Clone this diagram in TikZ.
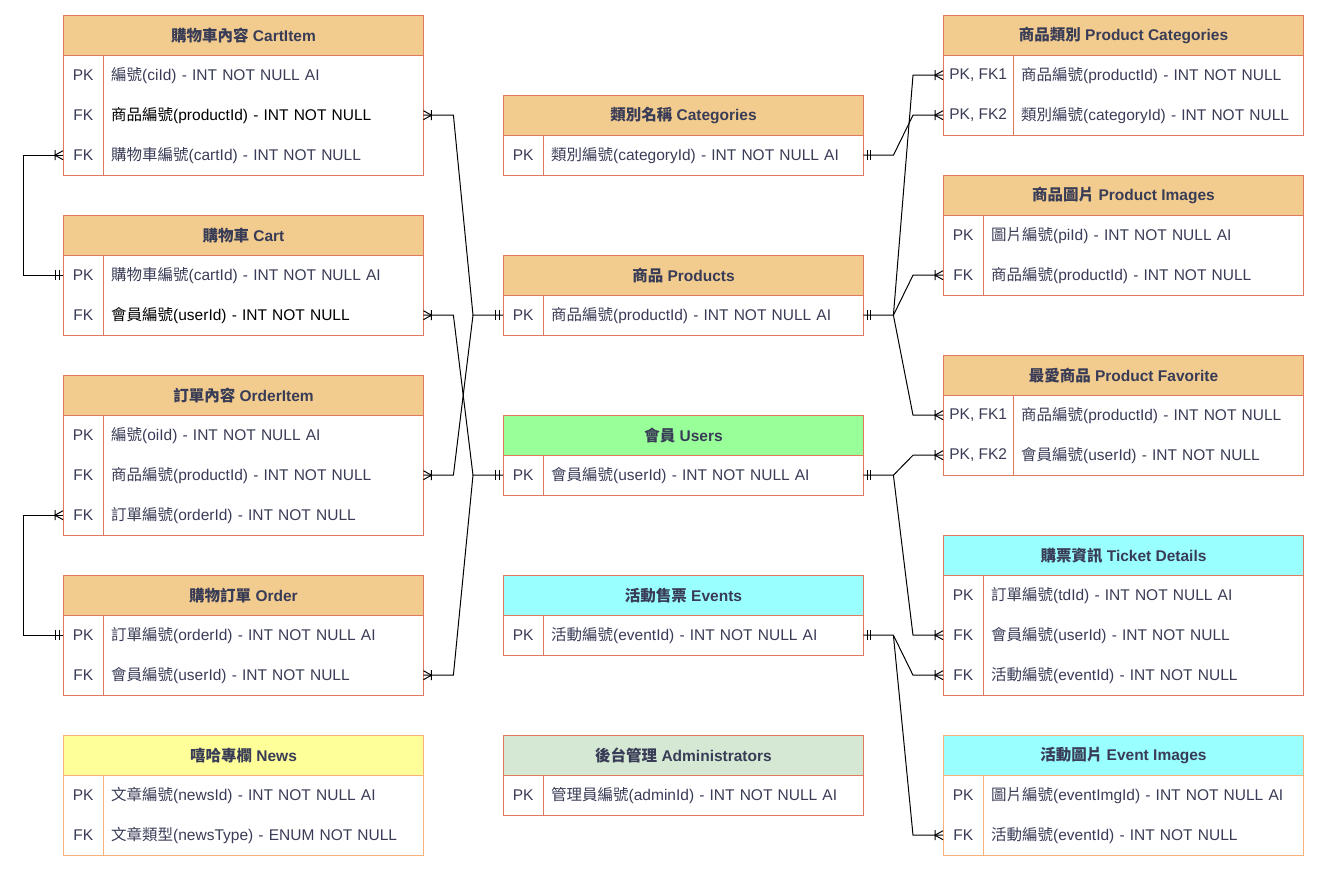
\documentclass[tikz,border=0pt]{standalone}
\usepackage{fontspec}
\setmainfont{Liberation Sans}
\newfontfamily\cjkfont{Noto Sans CJK TC}
\newcommand{\zh}[1]{{\cjkfont #1}}

\definecolor{bdr}{HTML}{E07A5F}
\definecolor{bdrlight}{HTML}{F7B27A}
\definecolor{hdrtan}{HTML}{F2CC8F}
\definecolor{ink}{HTML}{393C56}
\definecolor{mint}{HTML}{99FF99}
\definecolor{aqua}{HTML}{99FFFF}
\definecolor{lemon}{HTML}{FFFF99}
\definecolor{sage}{HTML}{D5E8D4}

\tikzset{
  hdr/.style={draw=bdr, line width=1pt, fill=hdrtan, anchor=north west, minimum width=360pt, minimum height=40pt, inner sep=0pt, text=ink, font=\fontsize{15.5}{19}\selectfont\bfseries},
  keyc/.style={anchor=north west, minimum width=40pt, minimum height=40pt, inner sep=0pt, text=ink},
  fldc/.style={anchor=north west, minimum height=40pt, text width=304pt, inner xsep=8pt, inner ysep=0pt, align=left, text=ink},
  box/.style={draw=bdr, line width=1pt},
  link/.style={draw=black, line width=1pt},
  crowfoot/.pic={\draw[link] (0,-4.5) -- (8,0) -- (0,4.5) (8,-5) -- (8,5);},
  onebar/.pic={\draw[link] (4,-5) -- (4,5) (7.5,-5) -- (7.5,5);}
}

\begin{document}
\begin{tikzpicture}[x=1pt, y=-1pt, font=\fontsize{15.5}{19}\selectfont]
\useasboundingbox (0,0) rectangle (1319,871);

% ---- left column
\node[hdr] (cartitem) at (63,15) {\zh{購物車內容} CartItem};
\foreach \k/\t [count=\i] in {PK/\zh{編號}(ciId) - INT NOT NULL AI, FK/\color{black}\zh{商品編號}(productId) - INT NOT NULL, FK/\zh{購物車編號}(cartId) - INT NOT NULL}{
  \node[keyc] (cartitem-k\i) at (63,{15+40*\i}) {\k};
  \node[fldc] (cartitem-\i) at (103,{15+40*\i}) {\t};
}
\draw[box] (cartitem-k1.north west) rectangle (cartitem-3.south east) (cartitem-k1.north east) -- (cartitem-k3.south east);

\node[hdr] (cart) at (63,215) {\zh{購物車} Cart};
\foreach \k/\t [count=\i] in {PK/\zh{購物車編號}(cartId) - INT NOT NULL AI, FK/\color{black}\zh{會員編號}(userId) - INT NOT NULL}{
  \node[keyc] (cart-k\i) at (63,{215+40*\i}) {\k};
  \node[fldc] (cart-\i) at (103,{215+40*\i}) {\t};
}
\draw[box] (cart-k1.north west) rectangle (cart-2.south east) (cart-k1.north east) -- (cart-k2.south east);

\node[hdr] (orderitem) at (63,375) {\zh{訂單內容} OrderItem};
\foreach \k/\t [count=\i] in {PK/\zh{編號}(oiId) - INT NOT NULL AI, FK/\zh{商品編號}(productId) - INT NOT NULL, FK/\zh{訂單編號}(orderId) - INT NOT NULL}{
  \node[keyc] (orderitem-k\i) at (63,{375+40*\i}) {\k};
  \node[fldc] (orderitem-\i) at (103,{375+40*\i}) {\t};
}
\draw[box] (orderitem-k1.north west) rectangle (orderitem-3.south east) (orderitem-k1.north east) -- (orderitem-k3.south east);

\node[hdr] (order) at (63,575) {\zh{購物訂單} Order};
\foreach \k/\t [count=\i] in {PK/\zh{訂單編號}(orderId) - INT NOT NULL AI, FK/\zh{會員編號}(userId) - INT NOT NULL}{
  \node[keyc] (order-k\i) at (63,{575+40*\i}) {\k};
  \node[fldc] (order-\i) at (103,{575+40*\i}) {\t};
}
\draw[box] (order-k1.north west) rectangle (order-2.south east) (order-k1.north east) -- (order-k2.south east);

\node[hdr, draw=bdrlight, fill=lemon] (news) at (63,735) {\zh{嘻哈專欄} News};
\foreach \k/\t [count=\i] in {PK/\zh{文章編號}(newsId) - INT NOT NULL AI, FK/\zh{文章類型}(newsType) - ENUM NOT NULL}{
  \node[keyc] (news-k\i) at (63,{735+40*\i}) {\k};
  \node[fldc] (news-\i) at (103,{735+40*\i}) {\t};
}
\draw[box, draw=bdrlight] (news-k1.north west) rectangle (news-2.south east) (news-k1.north east) -- (news-k2.south east);

% ---- middle column
\node[hdr] (categories) at (503,95) {\zh{類別名稱} Categories};
\node[keyc] (categories-k1) at (503,135) {PK};
\node[fldc] (categories-1) at (543,135) {\zh{類別編號}(categoryId) - INT NOT NULL AI};
\draw[box] (categories-k1.north west) rectangle (categories-1.south east) (categories-k1.north east) -- (categories-k1.south east);

\node[hdr] (products) at (503,255) {\zh{商品} Products};
\node[keyc] (products-k1) at (503,295) {PK};
\node[fldc] (products-1) at (543,295) {\zh{商品編號}(productId) - INT NOT NULL AI};
\draw[box] (products-k1.north west) rectangle (products-1.south east) (products-k1.north east) -- (products-k1.south east);

\node[hdr, fill=mint] (users) at (503,415) {\zh{會員} Users};
\node[keyc] (users-k1) at (503,455) {PK};
\node[fldc] (users-1) at (543,455) {\zh{會員編號}(userId) - INT NOT NULL AI};
\draw[box] (users-k1.north west) rectangle (users-1.south east) (users-k1.north east) -- (users-k1.south east);

\node[hdr, fill=aqua] (events) at (503,575) {\zh{活動售票} Events};
\node[keyc] (events-k1) at (503,615) {PK};
\node[fldc] (events-1) at (543,615) {\zh{活動編號}(eventId) - INT NOT NULL AI};
\draw[box] (events-k1.north west) rectangle (events-1.south east) (events-k1.north east) -- (events-k1.south east);

\node[hdr, fill=sage] (admins) at (503,735) {\zh{後台管理} Administrators};
\node[keyc] (admins-k1) at (503,775) {PK};
\node[fldc] (admins-1) at (543,775) {\zh{管理員編號}(adminId) - INT NOT NULL AI};
\draw[box] (admins-k1.north west) rectangle (admins-1.south east) (admins-k1.north east) -- (admins-k1.south east);

% ---- right column
\node[hdr] (prodcat) at (943,15) {\zh{商品類別} Product Categories};
\foreach \k/\t [count=\i] in {{PK, FK1}/\zh{商品編號}(productId) - INT NOT NULL, {PK, FK2}/\zh{類別編號}(categoryId) - INT NOT NULL}{
  \node[keyc, minimum width=70pt] (prodcat-k\i) at (943,{15+40*\i}) {\k};
  \node[fldc, text width=274pt] (prodcat-\i) at (1013,{15+40*\i}) {\mbox{\t}};
}
\draw[box] (prodcat-k1.north west) rectangle (prodcat-2.south east) (prodcat-k1.north east) -- (prodcat-k2.south east);

\node[hdr] (prodimg) at (943,175) {\zh{商品圖片} Product Images};
\foreach \k/\t [count=\i] in {PK/\zh{圖片編號}(piId) - INT NOT NULL AI, FK/\zh{商品編號}(productId) - INT NOT NULL}{
  \node[keyc] (prodimg-k\i) at (943,{175+40*\i}) {\k};
  \node[fldc] (prodimg-\i) at (983,{175+40*\i}) {\t};
}
\draw[box] (prodimg-k1.north west) rectangle (prodimg-2.south east) (prodimg-k1.north east) -- (prodimg-k2.south east);

\node[hdr] (prodfav) at (943,355) {\zh{最愛商品} Product Favorite};
\foreach \k/\t [count=\i] in {{PK, FK1}/\zh{商品編號}(productId) - INT NOT NULL, {PK, FK2}/\zh{會員編號}(userId) - INT NOT NULL}{
  \node[keyc, minimum width=70pt] (prodfav-k\i) at (943,{355+40*\i}) {\k};
  \node[fldc, text width=274pt] (prodfav-\i) at (1013,{355+40*\i}) {\mbox{\t}};
}
\draw[box] (prodfav-k1.north west) rectangle (prodfav-2.south east) (prodfav-k1.north east) -- (prodfav-k2.south east);

\node[hdr, fill=aqua] (tickets) at (943,535) {\zh{購票資訊} Ticket Details};
\foreach \k/\t [count=\i] in {PK/\zh{訂單編號}(tdId) - INT NOT NULL AI, FK/\zh{會員編號}(userId) - INT NOT NULL, FK/\zh{活動編號}(eventId) - INT NOT NULL}{
  \node[keyc] (tickets-k\i) at (943,{535+40*\i}) {\k};
  \node[fldc] (tickets-\i) at (983,{535+40*\i}) {\t};
}
\draw[box] (tickets-k1.north west) rectangle (tickets-3.south east) (tickets-k1.north east) -- (tickets-k3.south east);

\node[hdr, draw=bdrlight, fill=aqua] (eventimg) at (943,735) {\zh{活動圖片} Event Images};
\foreach \k/\t [count=\i] in {PK/\zh{圖片編號}(eventImgId) - INT NOT NULL AI, FK/\zh{活動編號}(eventId) - INT NOT NULL}{
  \node[keyc] (eventimg-k\i) at (943,{735+40*\i}) {\k};
  \node[fldc] (eventimg-\i) at (983,{735+40*\i}) {\t};
}
\draw[box, draw=bdrlight] (eventimg-k1.north west) rectangle (eventimg-2.south east) (eventimg-k1.north east) -- (eventimg-k2.south east);

% ---- relations, left side
\draw[link] (cartitem-k3.west) -- ++(-40,0) |- (cart-k1.west);
\pic[xscale=-1] at (cartitem-k3.west) {crowfoot};
\pic[xscale=-1] at (cart-k1.west) {onebar};
\draw[link] (orderitem-k3.west) -- ++(-40,0) |- (order-k1.west);
\pic[xscale=-1] at (orderitem-k3.west) {crowfoot};
\pic[xscale=-1] at (order-k1.west) {onebar};

% ---- relations, left to middle
\draw[link] (cartitem-2.east) -- ++(30,0) -- ([xshift=-30pt]products-k1.west) -- (products-k1.west);
\draw[link] (orderitem-2.east) -- ++(30,0) -- ([xshift=-30pt]products-k1.west);
\draw[link] (cart-2.east) -- ++(30,0) -- ([xshift=-30pt]users-k1.west) -- (users-k1.west);
\draw[link] (order-2.east) -- ++(30,0) -- ([xshift=-30pt]users-k1.west);
\pic at (cartitem-2.east) {crowfoot};
\pic at (orderitem-2.east) {crowfoot};
\pic at (cart-2.east) {crowfoot};
\pic at (order-2.east) {crowfoot};
\pic[xscale=-1] at (products-k1.west) {onebar};
\pic[xscale=-1] at (users-k1.west) {onebar};

% ---- relations, middle to right
\draw[link] (categories-1.east) -- ++(30,0) -- ([xshift=-30pt]prodcat-k2.west) -- (prodcat-k2.west);
\draw[link] (products-1.east) -- ++(30,0) -- ([xshift=-30pt]prodcat-k1.west) -- (prodcat-k1.west);
\draw[link] ([xshift=30pt]products-1.east) -- ([xshift=-30pt]prodimg-k2.west) -- (prodimg-k2.west);
\draw[link] ([xshift=30pt]products-1.east) -- ([xshift=-30pt]prodfav-k1.west) -- (prodfav-k1.west);
\draw[link] (users-1.east) -- ++(30,0) -- ([xshift=-30pt]prodfav-k2.west) -- (prodfav-k2.west);
\draw[link] ([xshift=30pt]users-1.east) -- ([xshift=-30pt]tickets-k2.west) -- (tickets-k2.west);
\draw[link] (events-1.east) -- ++(30,0) -- ([xshift=-30pt]tickets-k3.west) -- (tickets-k3.west);
\draw[link] ([xshift=30pt]events-1.east) -- ([xshift=-30pt]eventimg-k2.west) -- (eventimg-k2.west);
\pic at (categories-1.east) {onebar};
\pic at (products-1.east) {onebar};
\pic at (users-1.east) {onebar};
\pic at (events-1.east) {onebar};
\pic[xscale=-1] at (prodcat-k1.west) {crowfoot};
\pic[xscale=-1] at (prodcat-k2.west) {crowfoot};
\pic[xscale=-1] at (prodimg-k2.west) {crowfoot};
\pic[xscale=-1] at (prodfav-k1.west) {crowfoot};
\pic[xscale=-1] at (prodfav-k2.west) {crowfoot};
\pic[xscale=-1] at (tickets-k2.west) {crowfoot};
\pic[xscale=-1] at (tickets-k3.west) {crowfoot};
\pic[xscale=-1] at (eventimg-k2.west) {crowfoot};

\end{tikzpicture}
\end{document}
